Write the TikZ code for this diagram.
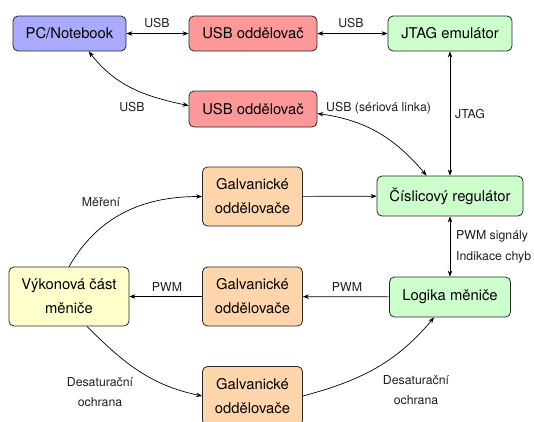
\documentclass[tikz,border=0pt]{standalone}
\usepackage{fontspec}
\setmainfont{TeX Gyre Heros}
\usetikzlibrary{arrows.meta}

\definecolor{pcblue}{RGB}{170,170,255}
\definecolor{usbred}{RGB}{255,153,153}
\definecolor{ctrlgreen}{RGB}{204,255,204}
\definecolor{isopeach}{RGB}{255,214,172}
\definecolor{powyellow}{RGB}{255,255,204}
\definecolor{boxline}{RGB}{40,40,40}
\definecolor{labeltext}{RGB}{30,30,30}

\begin{document}
\begin{tikzpicture}[x=1pt,y=1pt,
  box/.style={draw=boxline, line width=0.8pt, rounded corners=5pt, inner sep=0pt,
    align=center, font=\fontsize{14.8}{24}\selectfont},
  lbl/.style={inner sep=0pt, align=center, text=labeltext,
    font=\fontsize{12.3}{20.5}\selectfont},
  tip/.tip={Stealth[length=6pt,width=4.5pt]},
  one/.style={line width=0.7pt, -tip},
  both/.style={line width=0.7pt, tip-tip}
]
\useasboundingbox (0,0) rectangle (534,-421);
\clip (0,0) rectangle (534,-421);

% blocks
\node[box, fill=pcblue, minimum width=113pt, minimum height=35pt] (pc) at (69.5,-33.5) {PC/Notebook};
\node[box, fill=usbred, minimum width=128pt, minimum height=35pt] (usba) at (253,-33.5) {USB oddělovač};
\node[box, fill=ctrlgreen, minimum width=124pt, minimum height=35pt] (jtag) at (450,-33.5) {JTAG emulátor};
\node[box, fill=usbred, minimum width=128pt, minimum height=36pt] (usbb) at (253,-109) {USB oddělovač};
\node[box, fill=ctrlgreen, minimum width=146pt, minimum height=40pt] (dsp) at (450,-196) {Číslicový regulátor};
\node[box, fill=isopeach, minimum width=100pt, minimum height=59pt] (galva) at (252.5,-196.5) {Galvanické\\oddělovače};
\node[box, fill=powyellow, minimum width=120pt, minimum height=59pt] (vyk) at (69,-296.5) {Výkonová část\\měniče};
\node[box, fill=isopeach, minimum width=100pt, minimum height=59pt] (galvb) at (252.5,-296.5) {Galvanické\\oddělovače};
\node[box, fill=ctrlgreen, minimum width=121pt, minimum height=40pt] (logic) at (450,-297) {Logika měniče};
\node[box, fill=isopeach, minimum width=100pt, minimum height=59pt] (galvc) at (252.5,-396) {Galvanické\\oddělovače};

% straight links
\draw[both] (pc) -- (usba);
\draw[both] (usba) -- (jtag);
\draw[both] (jtag) -- (dsp);
\draw[one] (galva) -- (dsp);
\draw[both] (dsp) -- (logic);
\draw[one] (logic) -- (galvb);
\draw[one] (galvb) -- (vyk);

% curved links
\draw[both] (pc.-43) to[out=-52,in=168] (usbb.177);
\draw[both] (usbb.-4) to[out=-8,in=130] (dsp.139);
\draw[one] (vyk.north) to[out=60,in=180] (galva.west);
\draw[one] (vyk.-59) to[out=-45,in=168] (galvc.west);
\draw[one] (galvc.east) to[out=15,in=-130] (logic.-128);

% link labels
\node[lbl] (lusba) at (157,-23) {USB};
\node[lbl] (lusbb) at (351,-23) {USB};
\node[lbl] (lusbc) at (132,-107) {USB};
\node[lbl, anchor=west] (lser) at (326,-108) {USB (sériová linka)};
\node[lbl, anchor=west] (ljtag) at (455,-114) {JTAG};
\node[lbl, anchor=west, align=left] (lpwm) at (456,-247) {PWM signály\\Indikace chyb};
\node[lbl] (lmer) at (101,-202) {Měření};
\node[lbl] (lpwma) at (167,-287) {PWM};
\node[lbl] (lpwmb) at (347,-287) {PWM};
\node[lbl] (ldesa) at (100,-392) {Desaturační\\ochrana};
\node[lbl] (ldesb) at (416,-390) {Desaturační\\ochrana};
\end{tikzpicture}
\end{document}
